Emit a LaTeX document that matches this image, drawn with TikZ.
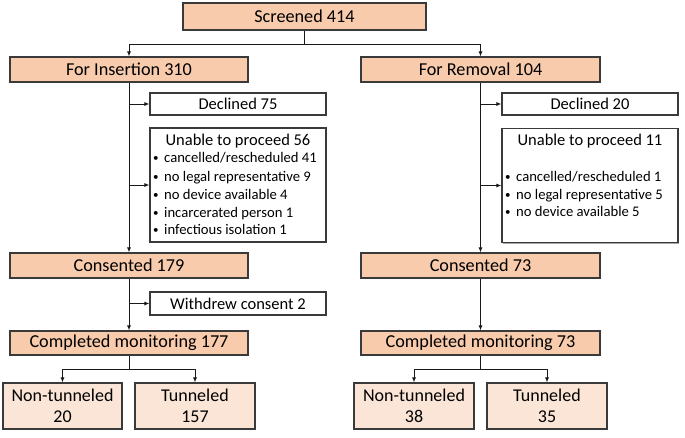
\documentclass[tikz,border=0pt]{standalone}
\usepackage{fontspec}
\setmainfont{Carlito}
\usetikzlibrary{arrows.meta,shadows}
\definecolor{orangebox}{HTML}{F8CBAD}
\definecolor{lightbox}{HTML}{FBE5D6}
\definecolor{edge}{HTML}{3A3A3A}
\newcommand{\smbul}{\makebox[11pt][l]{\raisebox{1pt}{\fontsize{11}{11}\selectfont•}}}
\begin{document}
\begin{tikzpicture}[x=1pt,y=-1pt,
  base/.style={draw=edge,line width=1.1pt,rectangle,inner sep=0pt,align=center,
    drop shadow={shadow xshift=1.2pt,shadow yshift=-1.2pt,opacity=0.35,fill=black}},
  mainbox/.style={base,fill=orangebox,font=\fontsize{18.2}{22}\selectfont},
  whitebox/.style={base,fill=white,font=\fontsize{16.5}{20}\selectfont},
  leafbox/.style={base,fill=lightbox,font=\fontsize{18}{21.6}\selectfont},
  item/.style={inner sep=0pt,anchor=west,text height=10pt,text depth=3pt,font=\fontsize{14.65}{17}\selectfont},
  title/.style={inner sep=0pt,text height=11.5pt,text depth=3.5pt,font=\fontsize{16.5}{20}\selectfont},
  conn/.style={draw=black!90,line width=1pt},
  arr/.style={conn,-{Latex[length=5pt,width=4pt]}}]
\useasboundingbox (0,0) rectangle (685,437);
% top
\node[mainbox,minimum width=243pt,minimum height=27pt] (scr) at (304.5,16.5) {Screened 414};
\node[mainbox,minimum width=238pt,minimum height=25pt] (ins) at (129,69.5) {For Insertion 310};
\node[mainbox,minimum width=239pt,minimum height=25pt] (rem) at (480.5,69.5) {For Removal 104};
% left side
\node[whitebox,minimum width=176pt,minimum height=22pt] (dec75) at (238,104) {Declined 75};
\node[whitebox,minimum width=176pt,minimum height=114pt] (un56) at (238,185) {};
\node[title] (un56t) at (238,141) {Unable to proceed 56};
\node[item] (a1) at (153,159) {\smbul cancelled/rescheduled 41};
\node[item] (a2) at (153,177.5) {\smbul no legal representative 9};
\node[item] (a3) at (153,195.5) {\smbul no device available 4};
\node[item] (a4) at (153,213.5) {\smbul incarcerated person 1};
\node[item] (a5) at (153,231) {\smbul infectious isolation 1};
\node[mainbox,minimum width=238pt,minimum height=25pt] (con179) at (129,265.5) {Consented 179};
\node[whitebox,minimum width=176pt,minimum height=23pt] (wd2) at (238,303.5) {Withdrew consent 2};
\node[mainbox,minimum width=238pt,minimum height=24pt] (cmp177) at (129,343) {Completed monitoring 177};
\node[leafbox,minimum width=119pt,minimum height=46pt] (nt20) at (62.5,406) {Non-tunneled\\20};
\node[leafbox,minimum width=120pt,minimum height=46pt] (t157) at (195,406) {Tunneled\\157};
% right side
\node[whitebox,minimum width=176pt,minimum height=22pt] (dec20) at (590,104) {Declined 20};
\node[whitebox,minimum width=176pt,minimum height=114pt] (un11) at (590,185.5) {};
\node[title] (un11t) at (590,141) {Unable to proceed 11};
\node[item] (b1) at (505,177.5) {\smbul cancelled/rescheduled 1};
\node[item] (b2) at (505,195.5) {\smbul no legal representative 5};
\node[item] (b3) at (505,213) {\smbul no device available 5};
\node[mainbox,minimum width=239pt,minimum height=25pt] (con73) at (480.5,265.5) {Consented 73};
\node[mainbox,minimum width=239pt,minimum height=24pt] (cmp73) at (480.5,343) {Completed monitoring 73};
\node[leafbox,minimum width=120pt,minimum height=46pt] (nt38) at (414,406) {Non-tunneled\\38};
\node[leafbox,minimum width=120pt,minimum height=46pt] (t35) at (547,406) {Tunneled\\35};
% connectors
\draw[conn] (scr.south) -- ++(0,13.5) coordinate (split);
\draw[arr] (split) -| (ins.north);
\draw[arr] (split) -| (rem.north);
\draw[arr] (ins.south) -- (con179.north);
\draw[arr] (ins.south |- dec75.west) -- (dec75.west);
\draw[arr] (ins.south |- un56.west) -- (un56.west);
\draw[arr] (con179.south) -- (cmp177.north);
\draw[arr] (con179.south |- wd2.west) -- (wd2.west);
\draw[conn] (cmp177.south) -- ++(0,14) coordinate (splitL);
\draw[arr] (splitL) -| (nt20.north);
\draw[arr] (splitL) -| (t157.north);
\draw[arr] (rem.south) -- (con73.north);
\draw[arr] (rem.south |- dec20.west) -- (dec20.west);
\draw[arr] (rem.south |- un11.west) -- (un11.west);
\draw[arr] (con73.south) -- (cmp73.north);
\draw[conn] (cmp73.south) -- ++(0,14) coordinate (splitR);
\draw[arr] (splitR) -| (nt38.north);
\draw[arr] (splitR) -| (t35.north);
\end{tikzpicture}
\end{document}
